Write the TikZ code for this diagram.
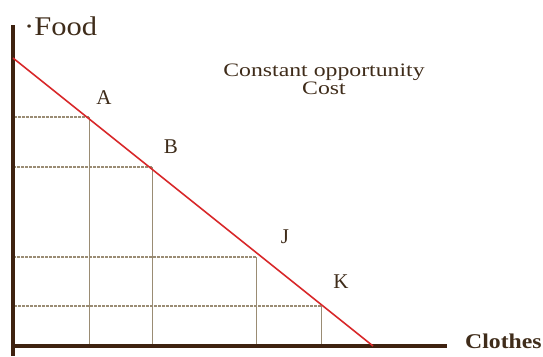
\documentclass[tikz,border=0pt]{standalone}
\usepackage{fontspec}
\setmainfont{Liberation Serif}
\definecolor{axisbrown}{HTML}{3E2210}
\definecolor{ppfred}{HTML}{D8282A}
\definecolor{gridtan}{HTML}{9A8C74}
\definecolor{txtbrown}{HTML}{3F2C1A}
\begin{document}
\begin{tikzpicture}[x=1pt,y=-1pt,
  axisline/.style={draw=axisbrown,line width=3.5pt},
  ppf/.style={draw=ppfred,line width=1.6pt},
  gridh/.style={draw=gridtan,line width=1.1pt,dash pattern=on 3pt off 1pt},
  gridv/.style={draw=gridtan,line width=1pt},
  lbl/.style={text=txtbrown,font=\fontsize{21}{21}\selectfont,inner sep=0pt}]
\useasboundingbox (0,0) rectangle (543,356);
\coordinate (O) at (13,346);
\coordinate (Ytop) at (13,25);
\coordinate (Ybot) at (13,356);
\coordinate (Xend) at (447,346);
\coordinate (P0) at (13,58);
\coordinate (P1) at (373,346);
\coordinate (A) at (89,117);
\coordinate (B) at (152,167);
\coordinate (J) at (256,257);
\coordinate (K) at (321,306);
% grid
\foreach \p in {A,B,J,K}{
  \draw[gridh] (\p) -- (\p -| O);
  \draw[gridv] (\p) -- (\p |- O);
}
% axes
\draw[axisline] (Ytop) -- (Ybot);
\draw[axisline] (O) -- (Xend);
% PPF
\draw[ppf] (P0) -- (P1);
% labels
\node[lbl,anchor=base west,font=\fontsize{27}{27}\selectfont,xscale=1.13] (food) at (24,35) {·Food};
\node[lbl,anchor=base west,font=\bfseries\fontsize{21}{21}\selectfont,xscale=1.13] (clothes) at (465,348) {Clothes};
\node[lbl] (la) at (104,98) {A};
\node[lbl] (lb) at (171,147) {B};
\node[lbl] (lj) at (285,237) {J};
\node[lbl] (lk) at (341,282) {K};
\node[lbl,font=\fontsize{19}{15}\selectfont,xscale=1.25,align=center,anchor=base] (cost) at (324,94) {Constant opportunity\\Cost};
\end{tikzpicture}
\end{document}
